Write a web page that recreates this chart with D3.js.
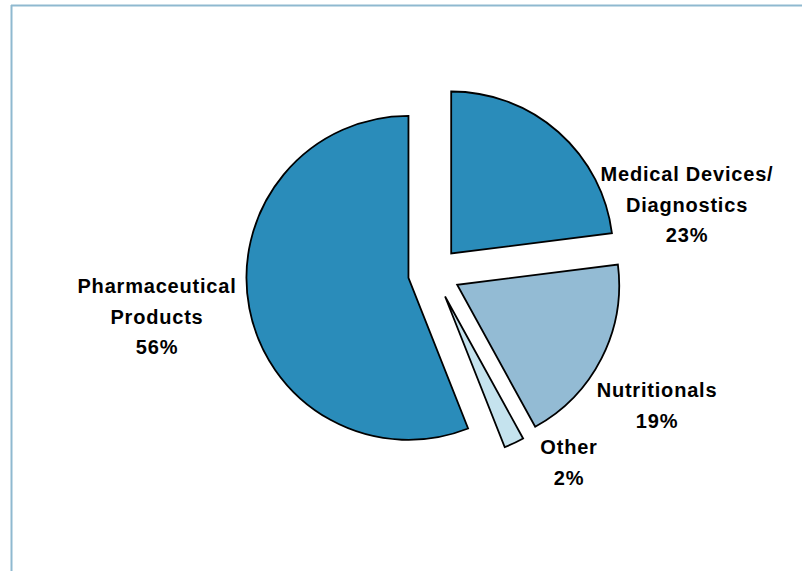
<!DOCTYPE html>
<html>
<head>
<meta charset="utf-8">
<script src="https://cdn.jsdelivr.net/npm/d3@7/dist/d3.min.js"></script>
<style>
  html, body { margin: 0; padding: 0; background: #ffffff; }
  svg { display: block; }
  .lbl { font-family: "Liberation Sans", Arial, sans-serif; font-weight: bold; font-size: 20px; fill: #000; letter-spacing: 0.8px; }
</style>
</head>
<body>
<svg id="chart" width="802" height="571"></svg>
<script>
// Segment share of sales (%)
const categories = ["Medical Devices/\nDiagnostics", "Nutritionals", "Other", "Pharmaceutical\nProducts"];
const values = [23, 19, 2, 56];
const colors = ["#2a8cba", "#93bbd4", "#c5e3ee", "#2a8cba"];

// Label anchors (centre of the first text line baseline)
const labelAnchors = [[687, 181], [657, 397], [569, 454], [157, 293]];

const W = 802, H = 571;
const cx = 434, cy = 273, radius = 162, explode = 26;

const svg = d3.select("#chart");

// Frame lines (top and left)
svg.append("line").attr("x1", 11).attr("y1", 5.5).attr("x2", W).attr("y2", 5.5)
  .attr("stroke", "#8fb9d0").attr("stroke-width", 2);
svg.append("line").attr("x1", 11.5).attr("y1", 5).attr("x2", 11.5).attr("y2", H)
  .attr("stroke", "#8fb9d0").attr("stroke-width", 2);

const pie = d3.pie().sort(null).value(d => d).startAngle(0).endAngle(2 * Math.PI);
const arcs = pie(values);
const arc = d3.arc().innerRadius(0).outerRadius(radius);

const g = svg.append("g").attr("transform", `translate(${cx},${cy})`);

g.selectAll("path.slice")
  .data(arcs)
  .join("path")
  .attr("class", "slice")
  .attr("d", arc)
  .attr("fill", (d, i) => colors[i])
  .attr("stroke", "#000")
  .attr("stroke-width", 1.8)
  .attr("stroke-linejoin", "miter")
  .attr("transform", d => {
    const mid = (d.startAngle + d.endAngle) / 2;
    return `translate(${explode * Math.sin(mid)},${-explode * Math.cos(mid)})`;
  });

// Category labels with percentages
arcs.forEach((d, i) => {
  const lines = categories[i].split("\n").concat([d3.format("d")(values[i]) + "%"]);
  const t = svg.append("text").attr("class", "lbl").attr("text-anchor", "middle");
  lines.forEach((ln, k) => {
    t.append("tspan").attr("x", labelAnchors[i][0]).attr("y", labelAnchors[i][1] + k * 30.5).text(ln);
  });
});
</script>
</body>
</html>
